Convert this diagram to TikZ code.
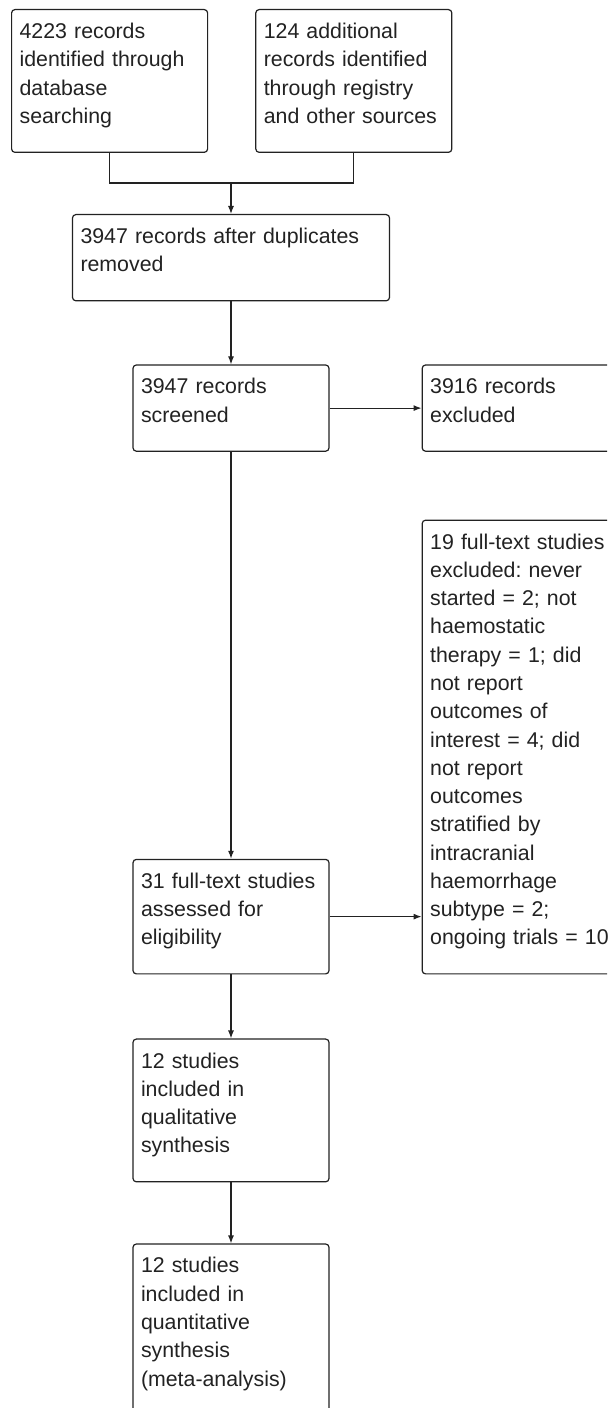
\documentclass[tikz,border=0pt]{standalone}
\usepackage{fontspec}
\setmainfont{Liberation Sans}
\usepackage{xcolor}
\usetikzlibrary{arrows.meta, positioning}
\definecolor{ink}{RGB}{34,34,34}
\frenchspacing

\begin{document}
\begin{tikzpicture}[x=0.75pt, y=0.75pt, node distance=47.25pt,
      every node/.style={font=\fontsize{16}{21.2}\selectfont, text=ink},
      box/.style={draw=ink, line width=0.9pt, rounded corners=2.5pt, align=left,
                  inner xsep=6pt, inner ysep=0pt, text width=135pt,
                  execute at begin node={\rule{0pt}{21.7pt}},
                  execute at end node={\rule[-21.75pt]{0pt}{0pt}}},
      wide/.style={text width=225.75pt},
      ln/.style={draw=ink, line width=0.9pt},
      ar/.style={ln, -{Latex[length=6pt, width=4.5pt]}}]
    \fill[white] (0,0) rectangle (607,-1408);
    \useasboundingbox (0,0) rectangle (607,-1408);
    \clip (0,0) rectangle (607,-1408);
    % identification
    \node[box, anchor=north west] (a) at (11,-9) {4223 records\\identified through\\database\\searching};
    \node[box, right=35.25pt of a] (b) {124 additional\\records identified\\through registry\\and other sources};
    \node[box, wide, anchor=north] (c) at (231,-214) {3947 records after duplicates\\removed};
    \coordinate[above=23.25pt of c.north] (m);
    % screening and eligibility
    \node[box, below=of c] (d) {3947 records\\screened};
    \node[box, right=69pt of d] (sx) {3916 records\\excluded};
    \node[box, below=305.25pt of d] (f) {31 full-text studies\\assessed for\\eligibility};
    \node[box, anchor=south west] (fx) at ([xshift=69pt]f.south east) {19 full-text studies\\excluded: never\\started = 2; not\\haemostatic\\therapy = 1; did\\not report\\outcomes of\\interest = 4; did\\not report\\outcomes\\stratified by\\intracranial\\haemorrhage\\subtype = 2;\\ongoing trials = 10};
    % included
    \node[box, below=48pt of f] (g) {12 studies\\included in\\qualitative\\synthesis};
    \node[box, below=45.75pt of g] (h) {12 studies\\included in\\quantitative\\synthesis\\(meta-analysis)};
    \draw[ln] (a.south) |- (m) -| (b.south);
    \draw[ar] (m) -- (c);
    \draw[ar] (c) -- (d); \draw[ar] (d) -- (sx);
    \draw[ar] (d) -- (f); \draw[ar] (f.east) -- (f.east -| fx.west);
    \draw[ar] (f) -- (g); \draw[ar] (g) -- (h);
  \end{tikzpicture}
\end{document}
